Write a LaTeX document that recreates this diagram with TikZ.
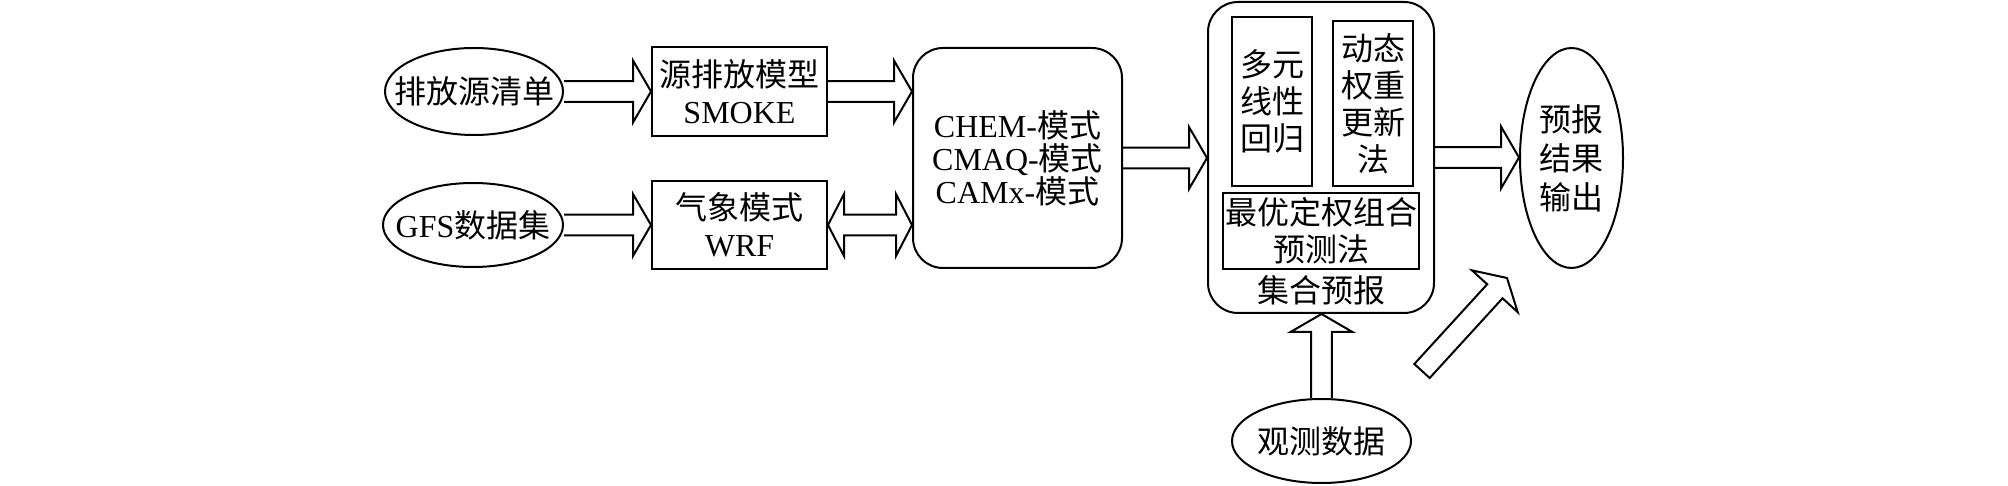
\documentclass[tikz,border=0pt]{standalone}
\usepackage{fontspec}
\setmainfont{Liberation Serif}
\newfontfamily\cjk{Noto Sans CJK SC}
\usetikzlibrary{shapes.geometric,calc}

\tikzset{
  box/.style={draw, line width=1pt, inner sep=0pt, align=center},
  rbox/.style={box, rounded corners=15pt},
  ell/.style={draw, line width=1pt, ellipse, inner xsep=-20pt, inner ysep=0pt, align=center},
  blockarrow/.style={draw, line width=1pt, line join=miter},
}

% 空心箭头: [附加路径]{起点}{终点}
\newcommand{\fatarrow}[3][]{%
  \path (#2) coordinate (fa-e) (#3) coordinate (fa-e);
  \path (#2) coordinate (fa-s);
  \path ($(fa-e)!9pt!(fa-s)$) coordinate (fa-h);
  \draw[blockarrow] ($(fa-s)!5.2pt!90:(fa-e)$) -- ($(fa-h)!5.2pt!90:(fa-e)$)
    -- ($(fa-h)!15.5pt!90:(fa-e)$) -- (fa-e) -- ($(fa-h)!15.5pt!-90:(fa-e)$)
    -- ($(fa-h)!5.2pt!-90:(fa-e)$) -- ($(fa-s)!5.2pt!-90:(fa-e)$) #1;
}
% 双向空心箭头
\newcommand{\fatdarrow}[2]{%
  \path (#1) coordinate (fd-s);
  \path (#2) coordinate (fd-e);
  \path ($(fd-s)!8pt!(fd-e)$) coordinate (fd-hs);
  \path ($(fd-e)!8pt!(fd-s)$) coordinate (fd-he);
  \draw[blockarrow] (fd-s) -- ($(fd-hs)!15.5pt!90:(fd-e)$) -- ($(fd-hs)!5.2pt!90:(fd-e)$)
    -- ($(fd-he)!5.2pt!90:(fd-e)$) -- ($(fd-he)!15.5pt!90:(fd-e)$) -- (fd-e)
    -- ($(fd-he)!15.5pt!-90:(fd-e)$) -- ($(fd-he)!5.2pt!-90:(fd-e)$)
    -- ($(fd-hs)!5.2pt!-90:(fd-e)$) -- ($(fd-hs)!15.5pt!-90:(fd-e)$) -- cycle;
}

\begin{document}
\begin{tikzpicture}[x=0.5pt, y=-0.5pt, font=\fontsize{16}{18.5}\selectfont]
	\useasboundingbox (0,0) rectangle (2008,486);
	
	% 输入数据
	\node[ell, minimum width=89pt, minimum height=43.5pt] (src) at (474,91.5) {\cjk 排放源清单};
	\node[ell, minimum width=90pt, minimum height=42pt] (gfs) at (473,225) {GFS{\cjk 数据集}};
	
	% 模式
	\node[box, minimum width=87.5pt, minimum height=44.5pt] (smoke) at (739.5,91.5) {{\cjk 源排放模型}\\SMOKE};
	\node[box, minimum width=87.5pt, minimum height=44pt] (wrf) at (739.5,225) {{\cjk 气象模式}\\WRF};
	\node[rbox, minimum width=104.5pt, minimum height=110pt, font=\fontsize{16}{16.5}\selectfont] (chem) at (1017.5,158)
		{CHEM-{\cjk 模式}\\CMAQ-{\cjk 模式}\\CAMx-{\cjk 模式}};
	
	% 集合预报
	\node[rbox, minimum width=113pt, minimum height=155.5pt] (ens) at (1321,157.5) {};
	\node[box, minimum width=40pt, minimum height=84.5pt] (mlr) at (1272,101.5) {\cjk 多元\\\cjk 线性\\\cjk 回归};
	\node[box, minimum width=40pt, minimum height=82.5pt] (dyn) at (1373,103.5) {\cjk 动态\\\cjk 权重\\\cjk 更新\\\cjk 法};
	\node[box, minimum width=98pt, minimum height=38pt] (opt) at (1321,231) {\cjk 最优定权组合\\\cjk 预测法};
	\node (enslbl) at (1321,290) {\cjk 集合预报};
	
	% 输出与观测
	\node[ell, minimum width=51.5pt, minimum height=110pt, font=\fontsize{16}{19.5}\selectfont] (out) at (1571.5,158) {\cjk 预报\\\cjk 结果\\\cjk 输出};
	\node[ell, minimum width=89.5pt, minimum height=42pt] (obs) at (1321.5,441) {\cjk 观测数据};
	
	\coordinate (dtail) at (1422,371);
	\coordinate (dtip) at (1507,278);
	
	% 箭头
	\fatarrow{src.east}{smoke.west}
	\fatarrow{gfs.east}{wrf.west}
	\fatarrow{smoke.east}{smoke.east -| chem.west}
	\fatdarrow{wrf.east}{wrf.east -| chem.west}
	\fatarrow{chem.east}{chem.east -| ens.west}
	\fatarrow{ens.east}{ens.east -| out.west}
	\fatarrow{obs.north}{obs.north |- ens.south}
	\fatarrow[-- cycle]{dtail}{dtip}
\end{tikzpicture}
\end{document}
